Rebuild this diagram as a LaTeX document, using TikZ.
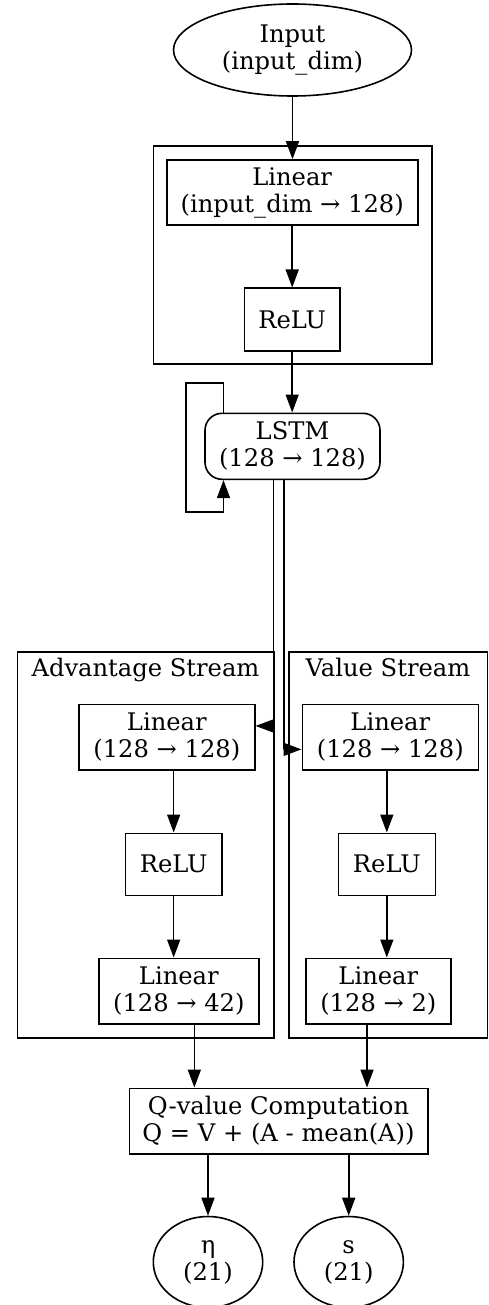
\documentclass[tikz,border=0pt]{standalone}
\usepackage{fontspec}
\setmainfont{DejaVu Serif}
\usetikzlibrary{arrows.meta,shapes.geometric,calc}
\begin{document}
\begin{tikzpicture}[x=1pt,y=-1pt,
  every node/.style={font=\fontsize{24.2}{27}\selectfont, align=center, inner sep=0pt},
  box/.style={draw, rectangle, line width=1.6pt},
  oval/.style={draw, ellipse, line width=1.6pt},
  cluster/.style={draw, line width=1.6pt},
  edge/.style={draw, line width=1.6pt, -{Triangle[length=18pt,width=13pt]}}
]
% canvas
\fill[white] (0,0) rectangle (488,1305);
\useasboundingbox (0,0) rectangle (488,1305);

% clusters
\draw[cluster] (153.3,146) rectangle (431.7,364);
\draw[cluster] (17.3,651.7) rectangle (273.7,1037.7);
\draw[cluster] (288.7,651.7) rectangle (487.3,1037.7);
\node[anchor=base] (advlabel) at (145.5,676.7) {Advantage Stream};
\node[anchor=base] (vallabel) at (388,676.7) {Value Stream};

% nodes
\node[oval, minimum width=238pt, minimum height=92pt] (input) at (292.5,50) {Input\\(input\_dim)};
\node[box, minimum width=251pt, minimum height=65pt] (lin0) at (292.2,192.5) {Linear\\(input\_dim → 128)};
\node[box, minimum width=95.7pt, minimum height=62.4pt] (relu0) at (292.2,319.5) {ReLU};
\node[box, rounded corners=17pt, minimum width=175pt, minimum height=66pt] (lstm) at (292.5,446.3) {LSTM\\(128 → 128)};

\node[box, minimum width=175.7pt, minimum height=65.7pt] (advlin1) at (166.85,737.15) {Linear\\(128 → 128)};
\node[box, minimum width=96.7pt, minimum height=62pt] (advrelu) at (173.65,864.3) {ReLU};
\node[box, minimum width=160.3pt, minimum height=65.7pt] (advlin2) at (178.85,991.15) {Linear\\(128 → 42)};

\node[box, minimum width=176pt, minimum height=65.7pt] (vallin1) at (390.3,737.15) {Linear\\(128 → 128)};
\node[box, minimum width=97pt, minimum height=62pt] (valrelu) at (386.8,864.3) {ReLU};
\node[box, minimum width=144.7pt, minimum height=65.7pt] (vallin2) at (378.35,991.15) {Linear\\(128 → 2)};

\node[box, minimum width=298.4pt, minimum height=65.7pt] (q) at (278.5,1121.2) {Q-value Computation\\Q = V + (A - mean(A))};

\node[oval, minimum width=109.4pt, minimum height=91pt] (eta) at (208,1262) {η\\(21)};
\node[oval, minimum width=109.4pt, minimum height=91pt] (s) at (348.7,1262) {s\\(21)};

% main trunk
\draw[edge] (input.south) -- (input.south |- lin0.north);
\draw[edge] (lin0.south) -- (lin0.south |- relu0.north);
\draw[edge] (relu0.south) -- (relu0.south |- lstm.north);

% recurrent loop of the LSTM
\coordinate (loopa) at (185.7,382.7);
\coordinate (loopb) at (185.7,511.7);
\coordinate (loopout) at ($(lstm.north west)+(19.3,0)$);
\coordinate (loopin) at ($(lstm.south west)+(19.3,0)$);
\draw[edge] (loopout) |- (loopa) -- (loopb) -| (loopin);

% branches into the two streams
\coordinate (toadv) at ($(lstm.south)+(-19,0)$);
\coordinate (toval) at ($(lstm.south)+(-8.5,0)$);
\coordinate (advin) at ($(advlin1.east)+(0,-11.2)$);
\coordinate (valin) at ($(vallin1.west)+(0,12.2)$);
\draw[edge] (toadv) |- (advin);
\draw[edge] (toval) |- (valin);

% advantage stream
\coordinate (advout) at ($(advlin2.south)+(15.5,0)$);
\draw[edge] (advrelu.north |- advlin1.south) -- (advrelu.north);
\draw[edge] (advrelu.south) -- (advrelu.south |- advlin2.north);
\draw[edge] (advout) -- (advout |- q.north);

% value stream
\coordinate (valout) at ($(vallin2.south)+(-11.35,0)$);
\draw[edge] (valrelu.north |- vallin1.south) -- (valrelu.north);
\draw[edge] (valrelu.south) -- (valrelu.south |- vallin2.north);
\draw[edge] (valout) -- (valout |- q.north);

% outputs
\draw[edge] (q.south -| eta.north) -- (eta.north);
\draw[edge] (q.south -| s.north) -- (s.north);
\end{tikzpicture}
\end{document}
